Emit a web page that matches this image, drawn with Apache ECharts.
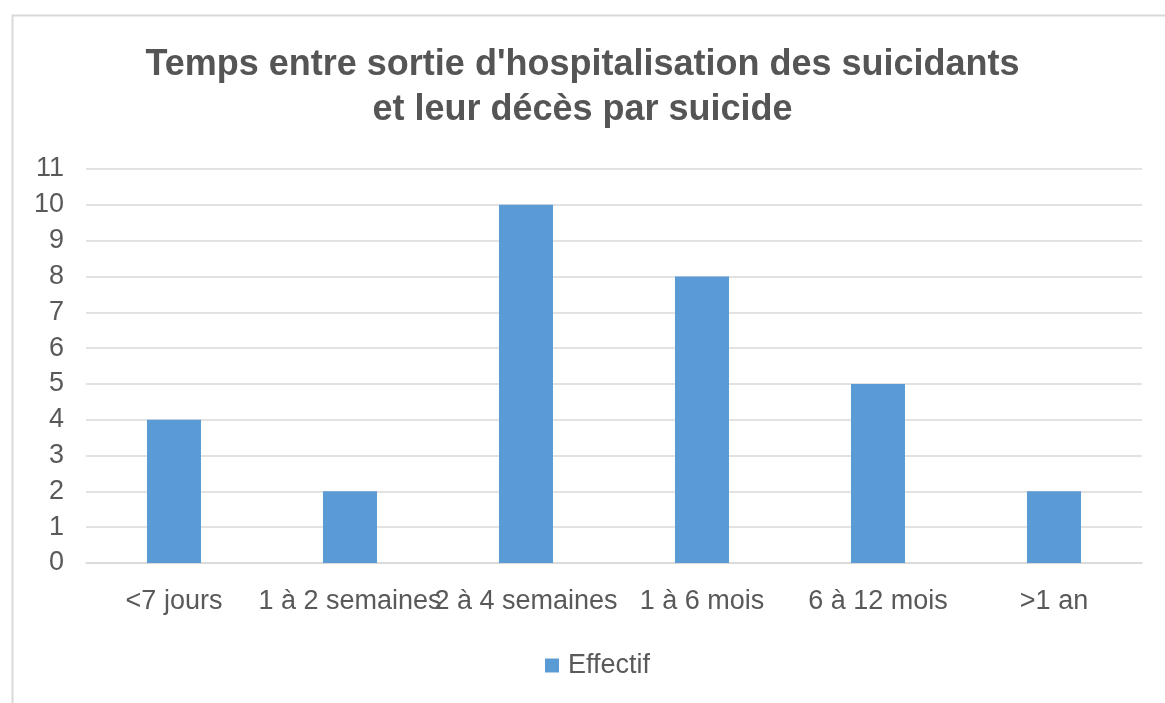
<!DOCTYPE html>
<html>
<head>
<meta charset="utf-8">
<script src="https://cdn.jsdelivr.net/npm/echarts@6/dist/echarts.min.js"></script>
<style>html,body{margin:0;padding:0;background:#fff;}#c{width:1165px;height:703px;}</style>
</head>
<body>
<div id="c"></div>
<script>
const categories = ['<7 jours', '1 à 2 semaines', '2 à 4 semaines', '1 à 6 mois', '6 à 12 mois', '>1 an'];
const effectif = [4, 2, 10, 8, 5, 2];
const seriesName = 'Effectif';
const titleText = "Temps entre sortie d'hospitalisation des suicidants\net leur décès par suicide";

const chart = echarts.init(document.getElementById('c'));
chart.setOption({
  animation: false,
  backgroundColor: '#fff',
  graphic: [{
    type: 'rect', left: 10, top: 13, shape: {width: 1170, height: 700},
    style: {fill: 'none', stroke: '#d9d9d9', lineWidth: 2}, silent: true
  }],
  title: {
    text: titleText,
    left: 'center',
    top: 38,
    textStyle: {fontFamily: 'Liberation Sans, Arial', fontWeight: 'bold', fontSize: 36, color: '#555555', lineHeight: 45}
  },
  legend: {
    top: 647,
    left: 540,
    itemWidth: 14, itemHeight: 14,
    icon: 'rect',
    textStyle: {fontFamily: 'Liberation Sans, Arial', fontSize: 27, color: '#595959', padding: [0,0,0,4]},
    data: [seriesName]
  },
  grid: {left: 86, right: 23, top: 169, bottom: 140},
  xAxis: {
    type: 'category',
    data: categories,
    axisLine: {lineStyle: {color: '#d9d9d9', width: 1.5}},
    axisTick: {show: false},
    axisLabel: {interval: 0, fontFamily: 'Liberation Sans, Arial', fontSize: 27, color: '#595959', margin: 25, hideOverlap: false}
  },
  yAxis: {
    type: 'value',
    min: 0, max: 11, interval: 1,
    axisLine: {show: false},
    axisTick: {show: false},
    splitLine: {lineStyle: {color: '#d9d9d9', width: 1.5}},
    axisLabel: {fontFamily: 'Liberation Sans, Arial', fontSize: 27, color: '#595959', margin: 22}
  },
  series: [{
    name: seriesName,
    type: 'bar',
    data: effectif,
    barWidth: 54,
    itemStyle: {color: '#5B9BD5'}
  }]
});
</script>
</body>
</html>
